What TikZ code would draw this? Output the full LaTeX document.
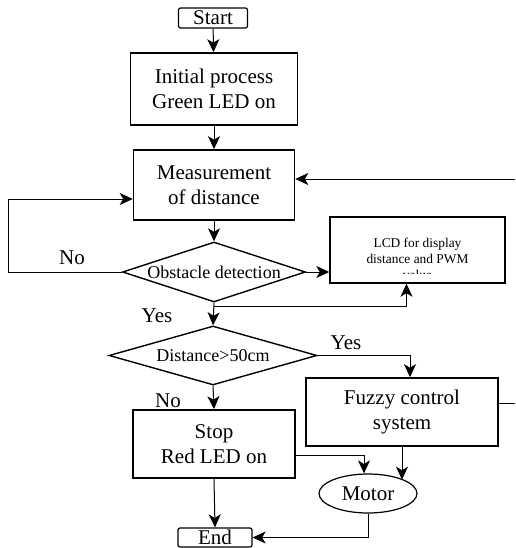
\documentclass[tikz,border=0pt]{standalone}
\usepackage{fontspec}
\setmainfont{Liberation Serif}
\usetikzlibrary{shapes.geometric,arrows.meta}

\tikzset{
	box/.style={draw, line width=1.6pt, inner sep=0pt, align=center, font=\fontsize{21}{25}\selectfont},
	term/.style={box, rounded corners=2pt, line width=1.2pt},
	decision/.style={draw, diamond, line width=1.4pt, inner sep=0pt, font=\fontsize{18}{22}\selectfont},
	arr/.style={line width=1pt, -{Stealth[length=13pt,width=12pt,inset=3.5pt]}},
	line/.style={line width=1pt},
	lbl/.style={inner sep=0pt, font=\fontsize{21}{25}\selectfont},
}

\begin{document}
\begin{tikzpicture}[x=1pt, y=-1pt]
		%%%%% START %%%%%
		\useasboundingbox (0,0) rectangle (515,548);
		
		\node[term, minimum width=69pt, minimum height=20pt] (start) at (213,18) {Start};
		\node[box, minimum width=167pt, minimum height=72pt] (init) at (214,89) {Initial process\\Green LED on};
		\node[box, minimum width=161pt, minimum height=70pt] (meas) at (214,185) {Measurement\\of distance};
		\node[decision, minimum width=183pt, minimum height=60pt] (obst) at (214,272) {\makebox[0pt]{Obstacle detection}};
		
		\node[box, line width=1.4pt, minimum width=175pt, minimum height=66pt] (lcd) at (417.5,250) {};
		\begin{scope}
			\clip (330,217) rectangle (505,273);
			\node[inner sep=0pt, align=center, font=\fontsize{13.4}{16}\selectfont] (lcdtext) at (417.5,259) {LCD for display\\distance and PWM\\value};
		\end{scope}
		
		\node[decision, minimum width=208pt, minimum height=59pt] (dist) at (213,355.5) {\makebox[0pt]{Distance>50cm}};
		\node[box, minimum width=192pt, minimum height=68pt] (fuzzy) at (402,412) {Fuzzy control\\system};
		\node[box, minimum width=162pt, minimum height=68pt] (stop) at (214,444) {Stop\\Red LED on};
		\node[draw, ellipse, line width=1.2pt, inner sep=0pt, minimum width=98pt, minimum height=39pt, font=\fontsize{21}{25}\selectfont] (motor) at (368,493.5) {Motor};
		\node[term, minimum width=74pt, minimum height=19pt] (end) at (215,537.5) {End};
		
		% labels
		\node[lbl] (noA) at (72,258) {No};
		\node[lbl] (yesA) at (157,316) {Yes};
		\node[lbl] (yesB) at (346,343) {Yes};
		\node[lbl] (noB) at (168,401) {No};
		
		% main flow
		\draw[arr] (start) -- (init);
		\draw[arr] (init) -- (meas);
		\draw[arr] (meas) -- (obst);
		\draw[arr] (obst.south) -- (dist.north);
		\draw[arr] (dist.south) -- (stop.north);
		\draw[arr] (stop.south) -- (end.north);
		
		% side branches
		\draw[arr] (obst.west) -- ++(-113,0) |- ([yshift=-14pt]meas.west);
		\draw[arr] (obst.east) -- (lcd.west |- obst.east);
		\draw[arr] ([yshift=-4pt]obst.south) -| ([xshift=-11pt]lcd.south);
		\draw[arr] (dist.east) -| ([xshift=8pt]fuzzy.north);
		\draw[arr] ([yshift=-11pt]stop.east) -| ([xshift=-4pt]motor.north);
		\draw[arr] (fuzzy.south) -- (fuzzy.south |- motor.21);
		\draw[arr] (motor.south) |- (end.east);
		
		% feedback, leaves the page
		\coordinate (fbin) at (515,179);
		\coordinate (fbout) at (515,403);
		\draw[arr] (fbin) -- (fbin -| meas.east);
		\draw[line] (fuzzy.east |- fbout) -- (fbout);
		
		%%%%% END %%%%%
	\end{tikzpicture}
\end{document}
